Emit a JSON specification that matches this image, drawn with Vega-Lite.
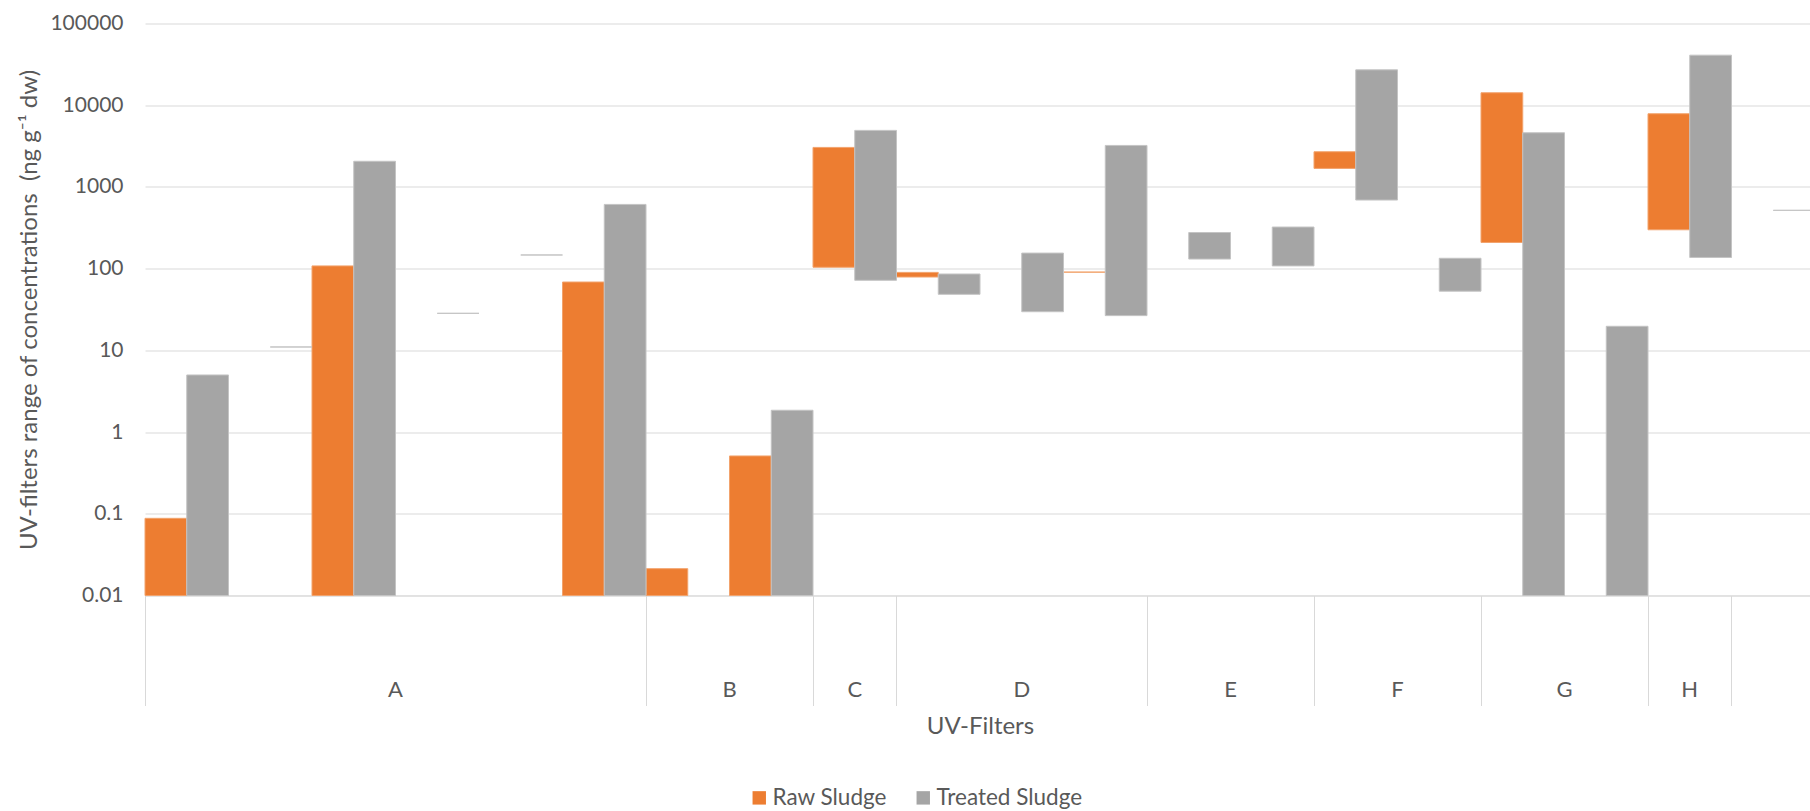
{
  "$schema": "https://vega.github.io/schema/vega-lite/v6.json",
  "autosize": {"type": "none"},
  "padding": {"left": 145, "top": 23.5, "right": 0, "bottom": 215.5},
  "width": 1665,
  "height": 572,
  "background": "white",
  "config": {"view": {"stroke": null}, "font": "Lato"},
  "data": {
    "values": [
      {"slot": "A1", "sludge": "Raw Sludge", "min": 0.01, "max": 0.088},
      {"slot": "A1", "sludge": "Treated Sludge", "min": 0.01, "max": 5.0},
      {"slot": "A2", "sludge": "Treated Sludge", "min": 11, "max": 11},
      {"slot": "A3", "sludge": "Raw Sludge", "min": 0.01, "max": 108},
      {"slot": "A3", "sludge": "Treated Sludge", "min": 0.01, "max": 2060},
      {"slot": "A4", "sludge": "Treated Sludge", "min": 28.4, "max": 28.4},
      {"slot": "A5", "sludge": "Treated Sludge", "min": 147, "max": 147},
      {"slot": "A6", "sludge": "Raw Sludge", "min": 0.01, "max": 68.6},
      {"slot": "A6", "sludge": "Treated Sludge", "min": 0.01, "max": 611},
      {"slot": "B1", "sludge": "Raw Sludge", "min": 0.01, "max": 0.0213},
      {"slot": "B2", "sludge": "Raw Sludge", "min": 0.01, "max": 0.51},
      {"slot": "B2", "sludge": "Treated Sludge", "min": 0.01, "max": 1.85},
      {"slot": "C1", "sludge": "Raw Sludge", "min": 104, "max": 3045},
      {"slot": "C1", "sludge": "Treated Sludge", "min": 72, "max": 4920},
      {"slot": "D1", "sludge": "Raw Sludge", "min": 79, "max": 90},
      {"slot": "D1", "sludge": "Treated Sludge", "min": 48.5, "max": 86},
      {"slot": "D2", "sludge": "Treated Sludge", "min": 29.7, "max": 155},
      {"slot": "D3", "sludge": "Raw Sludge", "min": 90.6, "max": 90.6},
      {"slot": "D3", "sludge": "Treated Sludge", "min": 26.6, "max": 3220},
      {"slot": "E1", "sludge": "Treated Sludge", "min": 131, "max": 277},
      {"slot": "E2", "sludge": "Treated Sludge", "min": 108, "max": 323},
      {"slot": "F1", "sludge": "Raw Sludge", "min": 1685, "max": 2694},
      {"slot": "F1", "sludge": "Treated Sludge", "min": 691, "max": 27100},
      {"slot": "F2", "sludge": "Treated Sludge", "min": 53, "max": 134},
      {"slot": "G1", "sludge": "Raw Sludge", "min": 209, "max": 14200},
      {"slot": "G1", "sludge": "Treated Sludge", "min": 0.01, "max": 4600},
      {"slot": "G2", "sludge": "Treated Sludge", "min": 0.01, "max": 19.7},
      {"slot": "H1", "sludge": "Raw Sludge", "min": 299, "max": 7860},
      {"slot": "H1", "sludge": "Treated Sludge", "min": 137, "max": 40970},
      {"slot": "Z1", "sludge": "Treated Sludge", "min": 517, "max": 517}
    ]
  },
  "encoding": {
    "y": {
      "field": "min",
      "type": "quantitative",
      "scale": {"type": "log", "domain": [0.01, 100000]},
      "axis": {
        "values": [0.01, 0.1, 1, 10, 100, 1000, 10000, 100000],
        "format": "~g",
        "ticks": false,
        "domain": false,
        "grid": true,
        "gridColor": "#D9D9D9",
        "gridWidth": 1,
        "labelFont": "Lato",
        "labelFontSize": 21,
        "labelColor": "#595959",
        "labelPadding": 22,
        "title": "UV-filters range of concentrations\u00a0\u00a0(ng g⁻¹ dw)",
        "titleFont": "Lato",
        "titleFontSize": 24,
        "titleFontWeight": "normal",
        "titleColor": "#595959",
        "titleX": -116,
        "titleY": 286,
        "titleBaseline": "middle"
      }
    },
    "y2": {"field": "max"},
    "color": {
      "field": "sludge",
      "type": "nominal",
      "scale": {"domain": ["Raw Sludge", "Treated Sludge"], "range": ["#ED7D31", "#A5A5A5"]},
      "legend": {
        "orient": "none",
        "legendX": 603,
        "legendY": 763,
        "direction": "horizontal",
        "title": null,
        "symbolType": "square",
        "symbolSize": 180,
        "symbolStrokeWidth": 0,
        "labelFont": "Lato",
        "labelFontSize": 22.5,
        "labelColor": "#595959",
        "labelOffset": 2,
        "columnPadding": 25
      }
    }
  },
  "layer": [
    {
      "transform": [{"filter": "datum.sludge === 'Raw Sludge'"}],
      "mark": {"type": "bar", "stroke": "#F2A36D", "strokeWidth": 1},
      "encoding": {
        "x": {
          "field": "slot",
          "type": "nominal",
          "scale": {
            "domain": ["A1", "A2", "A3", "A4", "A5", "A6", "B1", "B2", "C1", "D1", "D2", "D3", "E1", "E2", "F1", "F2", "G1", "G2", "H1", "Z1"],
            "range": [0, 1670],
            "paddingInner": 0,
            "paddingOuter": 0
          },
          "axis": {
            "orient": "bottom",
            "values": ["A1", "B1", "C1", "D1", "E1", "F1", "G1", "H1", "Z1"],
            "bandPosition": 0,
            "labels": false,
            "ticks": true,
            "tickSize": 110,
            "tickColor": "#D9D9D9",
            "tickWidth": 1,
            "domain": true,
            "domainColor": "#D9D9D9",
            "domainWidth": 1,
            "grid": false,
            "title": "UV-Filters",
            "titleFont": "Lato",
            "titleFontSize": 24,
            "titleFontWeight": "normal",
            "titleColor": "#595959",
            "titleX": 835,
            "titleY": 131,
            "titleBaseline": "middle"
          }
        },
        "xOffset": {
          "field": "sludge",
          "type": "nominal",
          "scale": {"domain": ["Raw Sludge", "Treated Sludge"], "paddingInner": 0, "paddingOuter": 0}
        }
      }
    },
    {
      "transform": [{"filter": "datum.sludge === 'Treated Sludge'"}],
      "mark": {"type": "bar", "stroke": "#C4C4C4", "strokeWidth": 1},
      "encoding": {
        "x": {
          "field": "slot",
          "type": "nominal",
          "scale": {
            "domain": ["A1", "A2", "A3", "A4", "A5", "A6", "B1", "B2", "C1", "D1", "D2", "D3", "E1", "E2", "F1", "F2", "G1", "G2", "H1", "Z1"],
            "range": [0, 1670],
            "paddingInner": 0,
            "paddingOuter": 0
          },
          "axis": {
            "orient": "bottom",
            "values": ["A4", "B2", "C1", "D2", "E2", "F2", "G2", "H1"],
            "labelExpr": "substring(datum.value, 0, 1)",
            "labelAngle": 0,
            "labelAlign": "center",
            "ticks": false,
            "domain": false,
            "grid": false,
            "labelPadding": 94,
            "labelBaseline": "middle",
            "labelOffset": {
              "condition": {"test": "datum.value === 'C1' || datum.value === 'D2' || datum.value === 'H1'", "value": 0},
              "value": -41.75
            },
            "labelFont": "Lato",
            "labelFontSize": 22,
            "labelColor": "#595959",
            "title": null
          }
        },
        "xOffset": {
          "field": "sludge",
          "type": "nominal",
          "scale": {"domain": ["Raw Sludge", "Treated Sludge"], "paddingInner": 0, "paddingOuter": 0}
        }
      }
    }
  ],
  "resolve": {"axis": {"x": "independent"}}
}
